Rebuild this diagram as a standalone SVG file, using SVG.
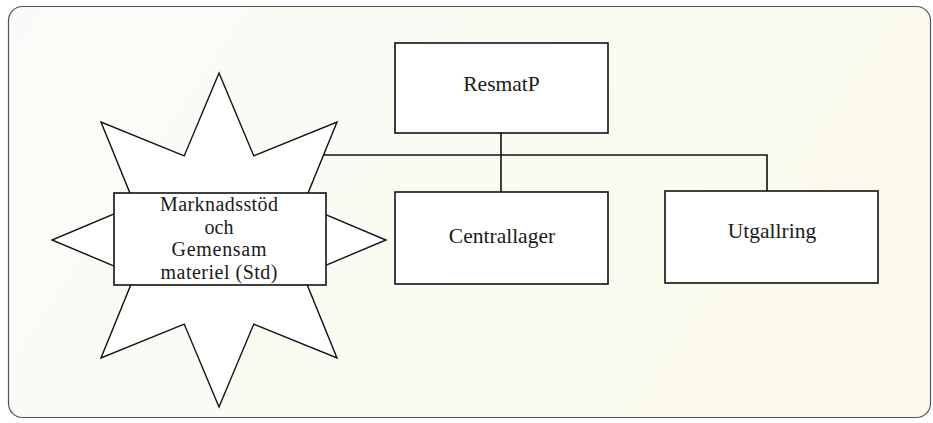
<svg xmlns="http://www.w3.org/2000/svg" width="933" height="423" viewBox="0 0 933 423">
  <defs>
    <linearGradient id="bg" x1="0" y1="0" x2="1" y2="0.3">
      <stop offset="0" stop-color="#fafaf8"/>
      <stop offset="0.5" stop-color="#fbfbf4"/>
      <stop offset="1" stop-color="#fbfaec"/>
    </linearGradient>
    <style>
      .box { fill: #ffffff; stroke: #111; stroke-width: 1.6; }
      .star { fill: #ffffff; stroke: #111; stroke-width: 1.4; stroke-linejoin: miter; }
      .lbl { font-family: "Liberation Serif", "Times New Roman", serif; fill: #1a1a1a; text-anchor: middle; }
      .big { font-size: 21.5px; }
      .small { font-size: 20px; }
      .conn { fill: none; stroke: #111; stroke-width: 1.6; }
    </style>
  </defs>

  <rect x="0" y="0" width="933" height="423" fill="#ffffff"/>
  <rect id="frame" x="8.5" y="6.5" width="922" height="411" rx="14" ry="14" fill="url(#bg)" stroke="#555" stroke-width="1.2"/>

  <g id="connectors">
    <path class="conn" d="M323.5 155 H767 V191"/>
    <path class="conn" d="M501 133 V192"/>
  </g>

  <g id="marknadsstod">
    <polygon class="star" points="219,73 253.8,155.9 337,122 303.1,205.2 386,240 303.1,274.8 337,358 253.8,324.1 219,407 184.2,324.1 101,358 134.9,274.8 52,240 134.9,205.2 101,122 184.2,155.9"/>
    <rect class="box" x="114" y="193" width="212" height="92"/>
    <text class="lbl small" x="219" y="211" textLength="118" lengthAdjust="spacing">Marknadsstöd</text>
    <text class="lbl small" x="219" y="234">och</text>
    <text class="lbl small" x="219" y="256" textLength="95" lengthAdjust="spacing">Gemensam</text>
    <text class="lbl small" x="219" y="279" textLength="117" lengthAdjust="spacing">materiel (Std)</text>
  </g>

  <g id="resmatp">
    <rect class="box" x="395" y="43" width="213" height="90"/>
    <text class="lbl big" x="501.5" y="91">ResmatP</text>
  </g>

  <g id="centrallager">
    <rect class="box" x="395" y="192" width="213" height="92"/>
    <text class="lbl big" x="502" y="243">Centrallager</text>
  </g>

  <g id="utgallring">
    <rect class="box" x="665" y="191" width="213" height="92"/>
    <text class="lbl big" x="772" y="238">Utgallring</text>
  </g>
</svg>
